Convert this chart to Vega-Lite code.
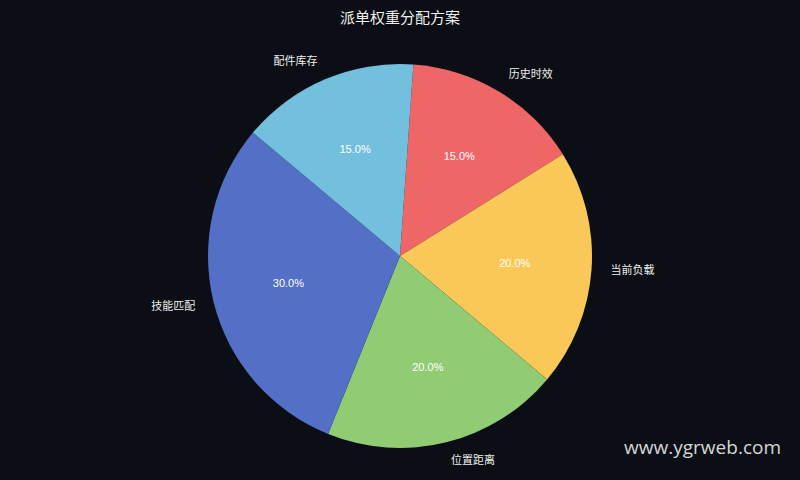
{
  "$schema": "https://vega.github.io/schema/vega-lite/v6.json",
  "description": "派单权重分配方案 pie",
  "width": 800,
  "height": 440,
  "padding": {"top": 11, "left": 0, "right": 0, "bottom": 5},
  "autosize": {"type": "pad"},
  "background": "#0b0e14",
  "view": {"stroke": null},
  "title": {
    "text": "派单权重分配方案",
    "color": "#eeeeee",
    "fontSize": 15,
    "font": "Noto Sans CJK SC",
    "fontWeight": "normal",
    "offset": 10
  },
  "data": {
    "values": [
      {"idx": 1, "name": "历史时效", "share": 0.15},
      {"idx": 2, "name": "当前负载", "share": 0.20},
      {"idx": 3, "name": "位置距离", "share": 0.20},
      {"idx": 4, "name": "技能匹配", "share": 0.30},
      {"idx": 5, "name": "配件库存", "share": 0.15}
    ]
  },
  "encoding": {
    "theta": {"field": "share", "type": "quantitative", "stack": true,
      "scale": {"range": [0.0698, 6.3530]}},
    "order": {"field": "idx", "type": "quantitative"}
  },
  "layer": [
    {
      "mark": {"type": "arc", "outerRadius": 192},
      "encoding": {
        "color": {
          "field": "name", "type": "nominal", "legend": null,
          "scale": {
            "domain": ["历史时效", "当前负载", "位置距离", "技能匹配", "配件库存"],
            "range": ["#ee6666", "#fac858", "#91cc75", "#5470c6", "#73c0de"]
          }
        }
      }
    },
    {
      "mark": {"type": "text", "radius": 115, "fontSize": 11, "color": "#ffffff", "font": "Liberation Sans"},
      "encoding": {"text": {"field": "share", "type": "quantitative", "format": ".1%"}}
    },
    {
      "mark": {"type": "text", "radius": 211, "align": "left", "baseline": "middle", "fontSize": 11, "color": "#eeeeee", "font": "Noto Sans CJK SC"},
      "encoding": {
        "text": {
          "condition": {"test": "indexof(['历史时效', '当前负载', '位置距离'], datum.name) >= 0", "field": "name"},
          "value": ""
        }
      }
    },
    {
      "mark": {"type": "text", "radius": 211, "align": "right", "baseline": "middle", "fontSize": 11, "color": "#eeeeee", "font": "Noto Sans CJK SC"},
      "encoding": {
        "text": {
          "condition": {"test": "indexof(['技能匹配', '配件库存'], datum.name) >= 0", "field": "name"},
          "value": ""
        }
      }
    },
    {
      "data": {"values": [{"mark_text": "www.ygrweb.com"}]},
      "mark": {"type": "text", "align": "right", "baseline": "bottom", "fontSize": 19, "color": "#d6d6d6", "font": "Open Sans"},
      "encoding": {
        "text": {"field": "mark_text"},
        "x": {"value": {"expr": "width - 19"}},
        "y": {"value": {"expr": "height - 18"}},
        "theta": null,
        "order": null
      }
    }
  ]
}
